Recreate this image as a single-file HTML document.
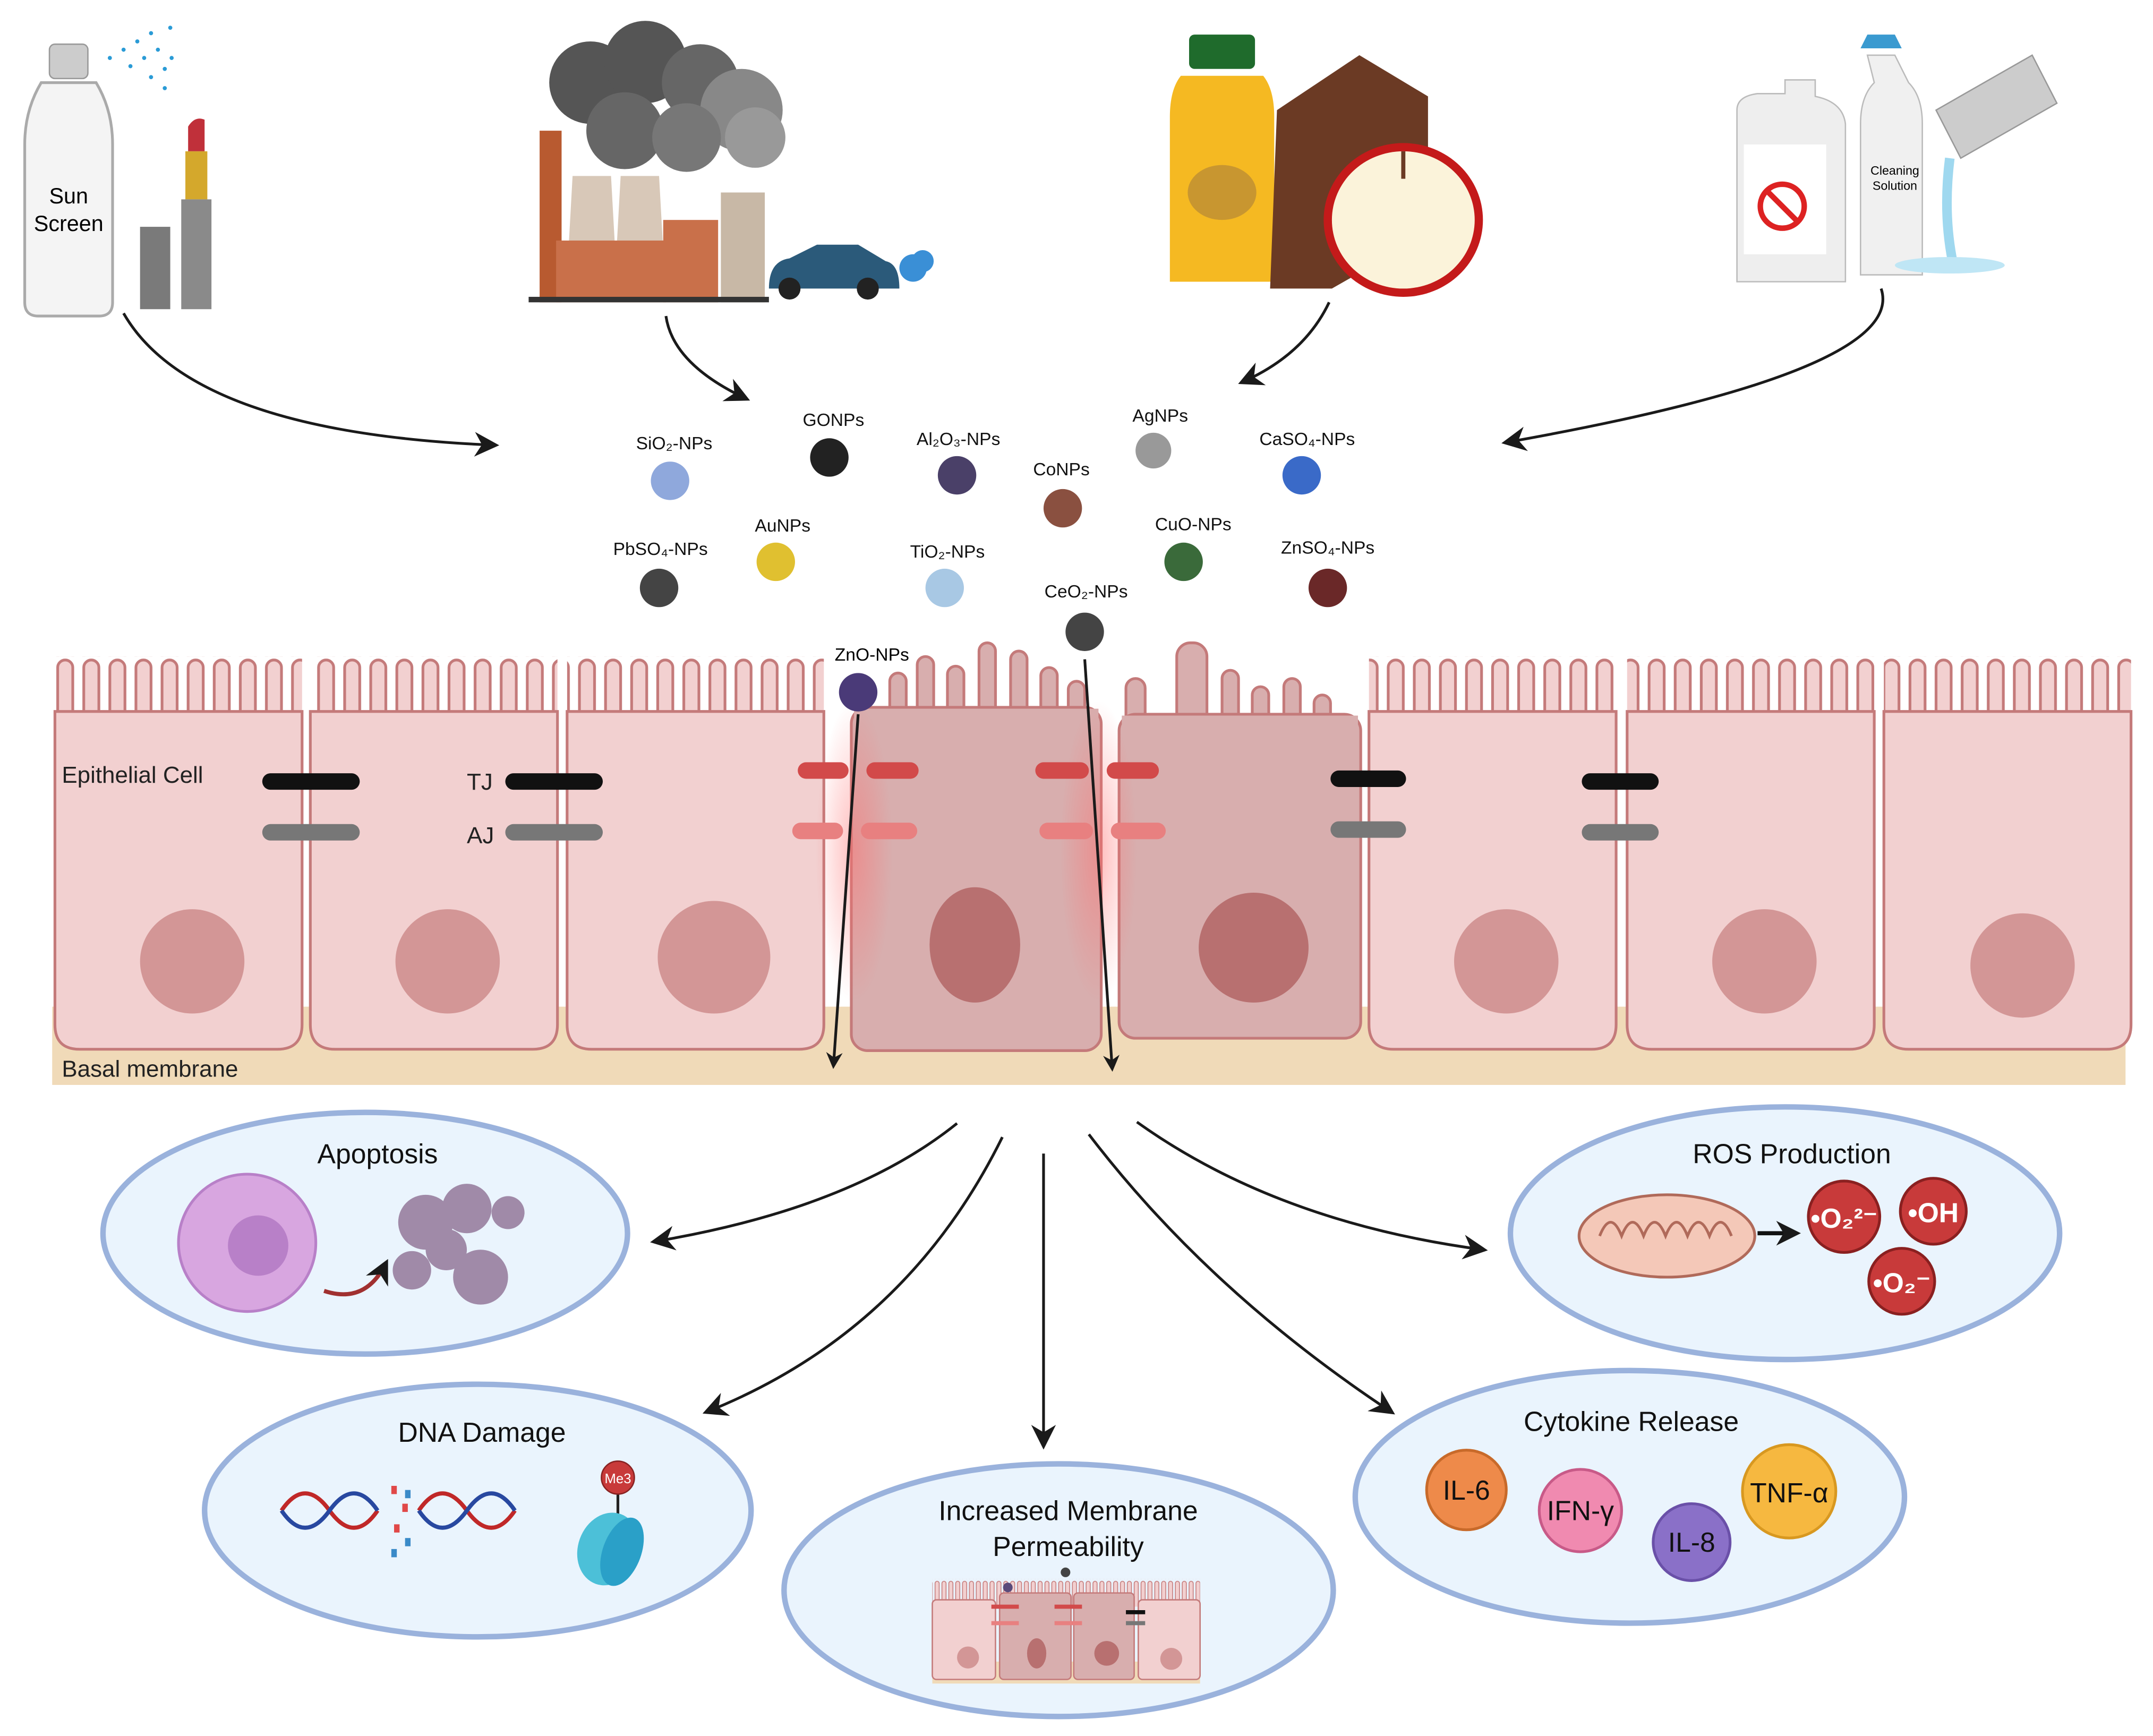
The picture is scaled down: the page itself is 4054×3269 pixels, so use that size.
<!DOCTYPE html>
<html><head><meta charset="utf-8"><style>
html,body{margin:0;padding:0;background:#fff}
svg{display:block}
text{font-family:"Liberation Sans",sans-serif}
</style></head><body>
<svg width="4054" height="3269" viewBox="0 0 1568 1264" xmlns="http://www.w3.org/2000/svg">
<defs>
<marker id="ah" viewBox="0 0 10 10" refX="8" refY="5" markerWidth="9" markerHeight="9" orient="auto"><path d="M0,0 L10,5 L0,10 L3,5 z" fill="#1a1a1a"/></marker>
<marker id="ahs" viewBox="0 0 10 10" refX="8" refY="5" markerWidth="6" markerHeight="6" orient="auto"><path d="M0,0 L10,5 L0,10 L3,5 z" fill="#1a1a1a"/></marker>
<pattern id="mv" x="0" y="478" width="19" height="60" patternUnits="userSpaceOnUse">
<path d="M4,62 V8 a5.5,5.5 0 0 1 11,0 V62" fill="#f2d0d0" stroke="#c47a7a" stroke-width="2"/>
</pattern>
<pattern id="mvs" x="0" y="1150" width="5" height="30" patternUnits="userSpaceOnUse">
<path d="M1,30 V3 a1.4,1.4 0 0 1 3,0 V30" fill="#f2d0d0" stroke="#c47a7a" stroke-width="0.6"/>
</pattern>
<radialGradient id="glow"><stop offset="0" stop-color="#ff6b6b" stop-opacity="0.45"/><stop offset="1" stop-color="#ff6b6b" stop-opacity="0"/></radialGradient>
</defs>

<!-- sources -->
<g>
<rect x="36" y="32" width="28" height="25" rx="4" fill="#ccc" stroke="#999"/>
<path d="M30,60 h40 q12,20 12,45 v115 q0,10 -10,10 h-44 q-10,0 -10,-10 v-115 q0,-25 12,-45z" fill="#f4f4f4" stroke="#aaa" stroke-width="2"/>
<text x="50" y="148" font-size="16" text-anchor="middle">Sun</text>
<text x="50" y="168" font-size="16" text-anchor="middle">Screen</text>
<g fill="#2a9bd6"><circle cx="80" cy="42" r="1.5"/><circle cx="90" cy="36" r="1.5"/><circle cx="100" cy="30" r="1.5"/><circle cx="110" cy="24" r="1.5"/><circle cx="95" cy="48" r="1.5"/><circle cx="105" cy="42" r="1.5"/><circle cx="115" cy="36" r="1.5"/><circle cx="120" cy="50" r="1.5"/><circle cx="110" cy="56" r="1.5"/><circle cx="120" cy="64" r="1.5"/><circle cx="124" cy="20" r="1.5"/><circle cx="125" cy="42" r="1.5"/></g>
<rect x="102" y="165" width="22" height="60" fill="#7a7a7a"/>
<path d="M137,92 q5,-8 12,-5 v23 h-12z" fill="#c0303a"/>
<rect x="135" y="110" width="16" height="35" fill="#d4a82c"/>
<rect x="132" y="145" width="22" height="80" fill="#8a8a8a"/>
</g>
<g>
<circle cx="430" cy="60" r="30" fill="#555"/><circle cx="470" cy="45" r="30" fill="#555"/><circle cx="510" cy="60" r="28" fill="#666"/><circle cx="540" cy="80" r="30" fill="#888"/><circle cx="455" cy="95" r="28" fill="#666"/><circle cx="500" cy="100" r="25" fill="#777"/><circle cx="550" cy="100" r="22" fill="#999"/>
<rect x="393" y="95" width="16" height="125" fill="#b85a30"/>
<path d="M412,218 l5,-90 h28 l5,90z" fill="#d8c8b8"/>
<path d="M447,218 l5,-90 h28 l5,90z" fill="#d8c8b8"/>
<rect x="405" y="175" width="80" height="45" fill="#c9704a"/>
<rect x="483" y="160" width="40" height="60" fill="#c9704a"/>
<rect x="525" y="140" width="32" height="80" fill="#c8b8a6"/>
<rect x="385" y="216" width="175" height="4" fill="#333"/>
<path d="M560,210 q0,-20 15,-22 l20,-10 h30 l20,12 q10,2 10,20z" fill="#2b5a7a"/>
<circle cx="575" cy="210" r="8" fill="#222"/><circle cx="632" cy="210" r="8" fill="#222"/>
<circle cx="665" cy="195" r="10" fill="#3a8fd6"/><circle cx="672" cy="190" r="8" fill="#3a8fd6"/>
</g>
<g>
<rect x="866" y="25" width="48" height="25" rx="4" fill="#1f6b2c"/>
<path d="M860,55 h60 q8,10 8,30 v120 h-76 v-120 q0,-20 8,-30z" fill="#f5b922"/>
<ellipse cx="890" cy="140" rx="25" ry="20" fill="#c89630"/>
<path d="M930,80 l60,-40 l50,30 v100 l-70,40 h-45z" fill="#6b3a24"/>
<ellipse cx="1022" cy="160" rx="58" ry="56" fill="#c41a1a"/>
<ellipse cx="1022" cy="160" rx="52" ry="50" fill="#fbf3da"/>
<path d="M1022,110 v20" stroke="#6b3a24" stroke-width="3"/>
</g>
<g>
<path d="M1265,80 q0,-10 15,-12 h20 v-10 h22 v12 q20,4 22,20 v115 h-79z" fill="#eee" stroke="#bbb"/>
<rect x="1270" y="105" width="60" height="80" fill="#fff"/>
<circle cx="1298" cy="150" r="16" fill="none" stroke="#d22" stroke-width="4"/><line x1="1287" y1="139" x2="1309" y2="161" stroke="#d22" stroke-width="4"/>
<path d="M1360,40 h20 l10,20 q10,10 10,30 v110 h-45 v-110 q0,-20 10,-30z" fill="#f0f0f0" stroke="#bbb"/>
<path d="M1355,35 h30 l-5,-10 h-20z" fill="#3a9ad0"/>
<text x="1380" y="127" font-size="9" text-anchor="middle">Cleaning</text>
<text x="1380" y="138" font-size="9" text-anchor="middle">Solution</text>
<path d="M1410,80 l70,-40 l18,35 l-70,40z" fill="#ccc" stroke="#999"/>
<path d="M1420,115 q-5,40 2,75" stroke="#9fd8ef" stroke-width="7" fill="none"/>
<ellipse cx="1420" cy="193" rx="40" ry="6" fill="#bfe6f5"/>
</g>

<g fill="none" stroke="#1a1a1a" stroke-width="2" marker-end="url(#ah)">
<path d="M90,228 Q140,315 360,324"/>
<path d="M485,230 Q490,265 543,290"/>
<path d="M968,220 Q950,258 905,278"/>
<path d="M1370,210 Q1390,270 1097,322"/>
</g>

<!-- nanoparticles -->
<g font-size="13" text-anchor="middle" fill="#111">
<circle cx="488" cy="350" r="14" fill="#8fa8dc"/><text x="491" y="327">SiO₂-NPs</text>
<circle cx="604" cy="333" r="14" fill="#222"/><text x="607" y="310">GONPs</text>
<circle cx="697" cy="346" r="14" fill="#4a4068"/><text x="698" y="324">Al₂O₃-NPs</text>
<circle cx="840" cy="328" r="13" fill="#999"/><text x="845" y="307">AgNPs</text>
<circle cx="948" cy="346" r="14" fill="#3a6ac8"/><text x="952" y="324">CaSO₄-NPs</text>
<circle cx="774" cy="370" r="14" fill="#8a5040"/><text x="773" y="346">CoNPs</text>
<circle cx="565" cy="409" r="14" fill="#e0c030"/><text x="570" y="387">AuNPs</text>
<circle cx="862" cy="409" r="14" fill="#3a6a3a"/><text x="869" y="386">CuO-NPs</text>
<circle cx="480" cy="428" r="14" fill="#444"/><text x="481" y="404">PbSO₄-NPs</text>
<circle cx="688" cy="428" r="14" fill="#a8c8e4"/><text x="690" y="406">TiO₂-NPs</text>
<circle cx="967" cy="428" r="14" fill="#6a2828"/><text x="967" y="403">ZnSO₄-NPs</text>
<circle cx="790" cy="460" r="14" fill="#444"/><text x="791" y="435">CeO₂-NPs</text>
</g>

<!-- epithelium -->
<rect x="38" y="733" width="1510" height="57" fill="#f0dab8"/>
<g stroke="#c47a7a" stroke-width="2">
<rect x="40" y="478" width="180" height="44" fill="url(#mv)" stroke="none"/>
<rect x="226" y="478" width="180" height="44" fill="url(#mv)" stroke="none"/>
<rect x="413" y="478" width="187" height="44" fill="url(#mv)" stroke="none"/>
<rect x="997" y="478" width="180" height="44" fill="url(#mv)" stroke="none"/>
<rect x="1185" y="478" width="180" height="44" fill="url(#mv)" stroke="none"/>
<rect x="1372" y="478" width="180" height="44" fill="url(#mv)" stroke="none"/>
<path d="M40,518 h180 v228 q0,18 -18,18 h-144 q-18,0 -18,-18z" fill="#f2d0d0"/>
<path d="M226,518 h180 v228 q0,18 -18,18 h-144 q-18,0 -18,-18z" fill="#f2d0d0"/>
<path d="M413,518 h187 v228 q0,18 -18,18 h-151 q-18,0 -18,-18z" fill="#f2d0d0"/>
<path d="M997,518 h180 v228 q0,18 -18,18 h-144 q-18,0 -18,-18z" fill="#f2d0d0"/>
<path d="M1185,518 h180 v228 q0,18 -18,18 h-144 q-18,0 -18,-18z" fill="#f2d0d0"/>
<path d="M1372,518 h180 v228 q0,18 -18,18 h-144 q-18,0 -18,-18z" fill="#f2d0d0"/>
</g>
<!-- damaged cells -->
<g fill="#d8aeae" stroke="#c47a7a" stroke-width="2">
<rect x="648" y="490" width="12" height="40" rx="6"/>
<rect x="668" y="478" width="12" height="50" rx="6"/>
<rect x="690" y="485" width="12" height="45" rx="6"/>
<rect x="713" y="468" width="12" height="60" rx="6"/>
<rect x="736" y="474" width="12" height="56" rx="6"/>
<rect x="758" y="486" width="12" height="44" rx="6"/>
<rect x="778" y="496" width="12" height="34" rx="6"/>
<rect x="620" y="515" width="182" height="250" rx="12"/>
<rect x="820" y="494" width="14" height="40" rx="7"/>
<rect x="857" y="468" width="22" height="66" rx="10"/>
<rect x="890" y="488" width="12" height="46" rx="6"/>
<rect x="912" y="500" width="12" height="34" rx="6"/>
<rect x="935" y="494" width="12" height="40" rx="6"/>
<rect x="957" y="506" width="12" height="28" rx="6"/>
<rect x="815" y="520" width="176" height="236" rx="12"/>
</g>
<g fill="#d8aeae">
<rect x="622" y="516" width="178" height="20"/>
<rect x="817" y="521" width="172" height="20"/>
</g>
<g fill="#d39696">
<circle cx="140" cy="700" r="38"/><circle cx="326" cy="700" r="38"/><circle cx="520" cy="697" r="41"/>
<circle cx="1097" cy="700" r="38"/><circle cx="1285" cy="700" r="38"/><circle cx="1473" cy="703" r="38"/>
</g>
<ellipse cx="710" cy="688" rx="33" ry="42" fill="#b87070"/>
<circle cx="913" cy="690" r="40" fill="#b87070"/>
<ellipse cx="622" cy="620" rx="28" ry="110" fill="url(#glow)"/>
<ellipse cx="800" cy="620" rx="28" ry="110" fill="url(#glow)"/>
<circle cx="625" cy="504" r="14" fill="#4a3a78"/><text x="635" y="481" font-size="13" text-anchor="middle">ZnO-NPs</text>
<g stroke-linecap="round" stroke-width="12">
<line x1="197" y1="569" x2="256" y2="569" stroke="#111"/><line x1="197" y1="606" x2="256" y2="606" stroke="#777"/>
<line x1="374" y1="569" x2="433" y2="569" stroke="#111"/><line x1="374" y1="606" x2="433" y2="606" stroke="#777"/>
<line x1="975" y1="567" x2="1018" y2="567" stroke="#111"/><line x1="975" y1="604" x2="1018" y2="604" stroke="#777"/>
<line x1="1158" y1="569" x2="1202" y2="569" stroke="#111"/><line x1="1158" y1="606" x2="1202" y2="606" stroke="#777"/>
<line x1="587" y1="561" x2="612" y2="561" stroke="#d24a4a"/><line x1="637" y1="561" x2="663" y2="561" stroke="#d24a4a"/>
<line x1="583" y1="605" x2="608" y2="605" stroke="#e88080"/><line x1="633" y1="605" x2="662" y2="605" stroke="#e88080"/>
<line x1="760" y1="561" x2="787" y2="561" stroke="#d24a4a"/><line x1="812" y1="561" x2="838" y2="561" stroke="#d24a4a"/>
<line x1="763" y1="605" x2="790" y2="605" stroke="#e88080"/><line x1="815" y1="605" x2="843" y2="605" stroke="#e88080"/>
</g>
<g stroke="#1a1a1a" stroke-width="2" marker-end="url(#ahs)">
<line x1="625" y1="520" x2="607" y2="776"/>
<line x1="790" y1="480" x2="810" y2="778"/>
</g>
<g font-size="17" fill="#222">
<text x="45" y="570">Epithelial Cell</text>
<text x="340" y="575">TJ</text>
<text x="340" y="614">AJ</text>
<text x="45" y="784">Basal membrane</text>
</g>

<!-- effect arrows -->
<g fill="none" stroke="#1a1a1a" stroke-width="2" marker-end="url(#ah)">
<path d="M697,818 Q620,880 477,904"/>
<path d="M730,828 Q660,970 515,1028"/>
<path d="M760,840 L760,1052"/>
<path d="M793,826 Q880,940 1013,1028"/>
<path d="M828,817 Q930,890 1080,910"/>
</g>

<!-- ellipses -->
<g fill="#eaf4fd" stroke="#9ab2dc" stroke-width="4">
<ellipse cx="266" cy="898" rx="191" ry="88"/>
<ellipse cx="348" cy="1100" rx="199" ry="92"/>
<ellipse cx="771" cy="1158" rx="200" ry="92"/>
<ellipse cx="1187" cy="1090" rx="200" ry="92"/>
<ellipse cx="1300" cy="898" rx="200" ry="92"/>
</g>
<g font-size="20" text-anchor="middle" fill="#111">
<text x="275" y="847">Apoptosis</text>
<text x="351" y="1050">DNA Damage</text>
<text x="778" y="1107">Increased Membrane</text>
<text x="778" y="1133">Permeability</text>
<text x="1188" y="1042">Cytokine Release</text>
<text x="1305" y="847">ROS Production</text>
</g>
<!-- apoptosis -->
<circle cx="180" cy="905" r="50" fill="#d8a6e0" stroke="#b880c8" stroke-width="2"/>
<circle cx="188" cy="907" r="22" fill="#b880c8"/>
<path d="M236,940 q30,10 45,-20" stroke="#a03030" stroke-width="3" fill="none" marker-end="url(#ahs)"/>
<g fill="#a08aa8"><circle cx="310" cy="890" r="20"/><circle cx="340" cy="880" r="18"/><circle cx="300" cy="925" r="14"/><circle cx="350" cy="930" r="20"/><circle cx="370" cy="883" r="12"/><circle cx="325" cy="910" r="15"/></g>
<!-- DNA -->
<g stroke-width="3" fill="none">
<path d="M205,1100 q17,-25 35,0 t35,0" stroke="#c02828"/><path d="M205,1100 q17,25 35,0 t35,0" stroke="#2848a0"/>
<path d="M305,1100 q17,-25 35,0 t35,0" stroke="#c02828"/><path d="M305,1100 q17,25 35,0 t35,0" stroke="#2848a0"/>
</g>
<g fill="#e04848"><rect x="285" y="1082" width="4" height="6"/><rect x="293" y="1095" width="4" height="6"/><rect x="287" y="1110" width="4" height="6"/></g>
<g fill="#3a8ac8"><rect x="295" y="1085" width="4" height="6"/><rect x="285" y="1128" width="4" height="6"/><rect x="295" y="1120" width="4" height="6"/></g>
<line x1="450" y1="1082" x2="450" y2="1105" stroke="#222" stroke-width="2"/>
<circle cx="450" cy="1076" r="12" fill="#c83a3a" stroke="#822" stroke-width="1"/>
<text x="450" y="1080" font-size="10" fill="#fff" text-anchor="middle">Me3</text>
<ellipse cx="443" cy="1128" rx="22" ry="27" fill="#4cc0d8" transform="rotate(20 443 1128)"/>
<ellipse cx="453" cy="1130" rx="14" ry="26" fill="#2aa0c8" transform="rotate(20 453 1130)"/>
<!-- mini epithelium -->
<rect x="679" y="1210" width="195" height="16" fill="#f0dab8"/>
<rect x="679" y="1150" width="195" height="20" fill="url(#mvs)"/>
<g stroke="#c47a7a" stroke-width="1" fill="#f2d0d0">
<rect x="679" y="1165" width="46" height="58" rx="3"/><rect x="829" y="1165" width="45" height="58" rx="3"/>
<rect x="728" y="1160" width="52" height="63" rx="3" fill="#d8aeae"/><rect x="782" y="1160" width="44" height="63" rx="3" fill="#d8aeae"/>
</g>
<g fill="#d39696"><circle cx="705" cy="1207" r="8"/><circle cx="853" cy="1208" r="8"/></g>
<g fill="#b87070"><ellipse cx="755" cy="1204" rx="7" ry="11"/><circle cx="806" cy="1204" r="9"/></g>
<circle cx="734" cy="1156" r="3.5" fill="#5a4a7a"/><circle cx="776" cy="1145" r="3.5" fill="#444"/>
<g stroke-width="3"><line x1="722" y1="1170" x2="742" y2="1170" stroke="#d24a4a"/><line x1="768" y1="1170" x2="788" y2="1170" stroke="#d24a4a"/><line x1="722" y1="1182" x2="742" y2="1182" stroke="#e88080"/><line x1="768" y1="1182" x2="788" y2="1182" stroke="#e88080"/><line x1="820" y1="1174" x2="834" y2="1174" stroke="#111"/><line x1="820" y1="1182" x2="834" y2="1182" stroke="#777"/></g>
<!-- cytokines -->
<g font-size="20" text-anchor="middle" fill="#111">
<circle cx="1068" cy="1085" r="29" fill="#ee8a4a" stroke="#c86a2a" stroke-width="2"/><text x="1068" y="1092">IL-6</text>
<circle cx="1151" cy="1100" r="30" fill="#f08ab0" stroke="#c85a88" stroke-width="2"/><text x="1151" y="1107">IFN-γ</text>
<circle cx="1232" cy="1123" r="28" fill="#8a70c8" stroke="#6a50a8" stroke-width="2"/><text x="1232" y="1130">IL-8</text>
<circle cx="1303" cy="1086" r="34" fill="#f6b840" stroke="#d89820" stroke-width="2"/><text x="1303" y="1094">TNF-α</text>
</g>
<!-- ROS -->
<ellipse cx="1214" cy="900" rx="64" ry="30" fill="#f4c8b8" stroke="#b06a5a" stroke-width="2"/>
<path d="M1165,900 q8,-20 16,0 q8,-20 16,0 q8,-20 16,0 q8,-20 16,0 q8,-20 16,0 q8,-20 16,0" stroke="#b06a5a" stroke-width="2" fill="none"/>
<line x1="1280" y1="898" x2="1308" y2="898" stroke="#111" stroke-width="3" marker-end="url(#ahs)"/>
<g fill="#c83a3a" stroke="#8a2020" stroke-width="2"><circle cx="1343" cy="886" r="26"/><circle cx="1408" cy="882" r="24"/><circle cx="1385" cy="933" r="24"/></g>
<g font-size="20" font-weight="bold" fill="#fff" text-anchor="middle">
<text x="1343" y="894">•O₂²⁻</text><text x="1408" y="890">•OH</text><text x="1385" y="941">•O₂⁻</text>
</g>
</svg>
</body></html>
